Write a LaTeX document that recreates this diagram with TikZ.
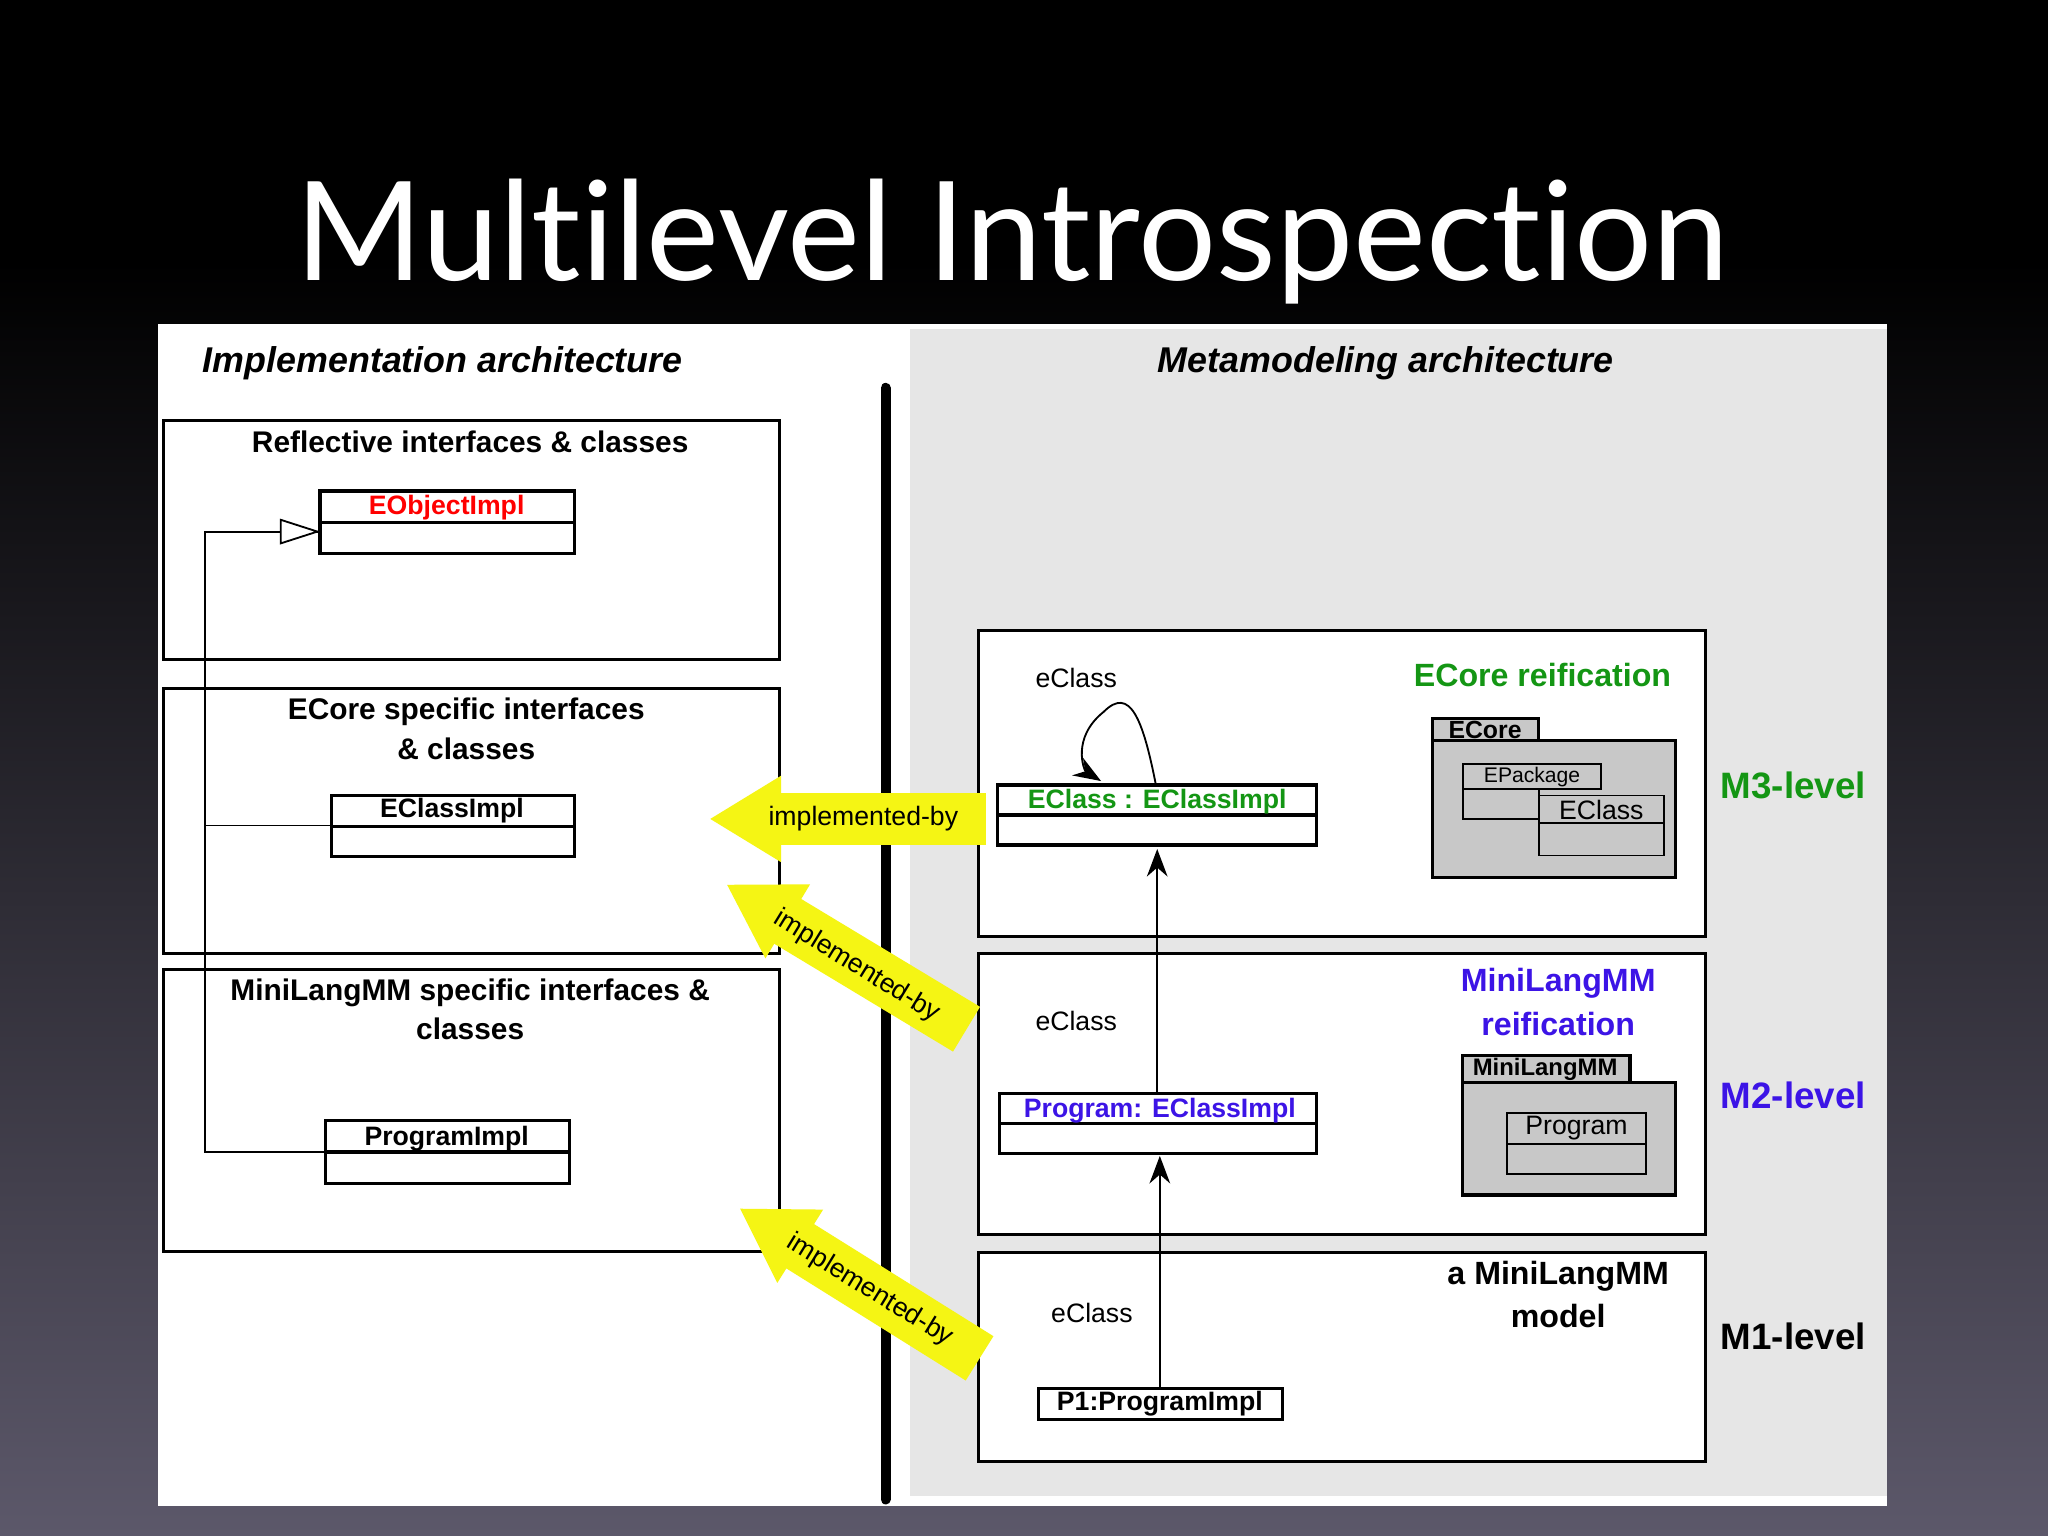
\documentclass[tikz,border=0pt]{standalone}
\usepackage{fontspec}
\setmainfont{Liberation Sans}
\newfontfamily\titlefont[Ligatures={NoCommon,NoRare}]{Lato}
\usetikzlibrary{arrows.meta}
\definecolor{bgbot}{RGB}{92,88,106}
\definecolor{panelgrey}{RGB}{230,230,230}
\definecolor{pkggrey}{RGB}{200,200,200}
\definecolor{mgreen}{RGB}{20,150,20}
\definecolor{mblue}{RGB}{60,20,230}
\definecolor{ayellow}{RGB}{245,245,20}
\tikzset{
  bx/.style={line width=0.7pt},
  lbl/.style={font=\fontsize{6.5pt}{7.5pt}\selectfont\bfseries,align=center,inner sep=0pt},
  clab/.style={font=\fontsize{5.8pt}{7pt}\selectfont\bfseries,inner sep=0pt},
  small/.style={font=\fontsize{5.8pt}{7pt}\selectfont,inner sep=0pt},
  tiny/.style={font=\fontsize{4.6pt}{5pt}\selectfont,inner sep=0pt},
  lvl/.style={font=\fontsize{8pt}{9pt}\selectfont\bfseries,inner sep=0pt},
  yarrow/.style={line width=0.4cm,ayellow,-{Triangle[length=0.55cm,width=0.62cm]}},
  ylab/.style={font=\fontsize{5.8pt}{7pt}\selectfont,text=black,inner sep=0pt},
}
\begin{document}
\begin{tikzpicture}[x=0.01cm,y=-0.01cm]
\useasboundingbox (0,0) rectangle (1568,1176);
\fill[black] (0,0) rectangle (1568,200);
\shade[top color=black,bottom color=bgbot] (0,200) rectangle (1568,1176);
\node[text=white,font=\titlefont\fontsize{30pt}{32pt}\selectfont,inner sep=0pt] (title) at (775,185) {Multilevel Introspection};
\fill[white] (121,248) rectangle (1445,1153);
\fill[panelgrey] (697,252) rectangle (1445,1145);
\draw[line width=2.2pt,line cap=round] (678,297) -- (678,1148);
\node[font=\fontsize{7.8pt}{8pt}\selectfont\bfseries\itshape,inner sep=0pt] (ia) at (339,278) {Implementation architecture};
\node[font=\fontsize{7.8pt}{8pt}\selectfont\bfseries\itshape,inner sep=0pt] (ma) at (1061,278) {Metamodeling architecture};
% left boxes
\draw[bx] (125,322) rectangle (597,505);
\draw[bx] (125,527) rectangle (597,730);
\draw[bx] (125,742) rectangle (597,958);
\node[lbl] (t1) at (360,338) {Reflective interfaces \& classes};
\node[lbl] (t2) at (357,558) {ECore specific interfaces\\[1pt]\& classes};
\node[lbl] (t3) at (360,773) {MiniLangMM specific interfaces \&\\[1pt]classes};
% classes
\draw[bx] (245,376) rectangle (440,424); \draw[bx] (245,400) -- (440,400);
\node[clab,text=red] (eobj) at (342,389) {EObjectImpl};
\coordinate (eobjL) at (245,407);
\draw[bx] (254,609) rectangle (440,656); \draw[bx] (254,633) -- (440,633);
\node[clab] (ecl) at (346,621) {EClassImpl};
\coordinate (eclL) at (254,632);
\draw[bx] (249,858) rectangle (436,906); \draw[bx] (249,882) -- (436,882);
\node[clab] (prg) at (342,872) {ProgramImpl};
\coordinate (prgL) at (249,882);
\coordinate (jn) at (157,632);
\draw (prgL) -- (157,882) -- (157,407) -- (eobjL) ;
\draw (eclL) -- (jn);
\draw[fill=white] (215,398) -- (243,407) -- (215,416) -- cycle;
% right boxes
\draw[bx,fill=white] (749,483) rectangle (1306,717);
\draw[bx,fill=white] (749,730) rectangle (1306,945);
\draw[bx,fill=white] (749,959) rectangle (1306,1119);
% M3
\draw[bx] (764,601) rectangle (1008,647); \draw[bx] (764,624) -- (1008,624);
\node[clab,text=mgreen] (ecls) at (886,614) {EClass : EClassImpl};
\node[small] (ec3) at (824,519) {eClass};
\draw[-{Stealth[length=6pt]}] (885,601) .. controls (875,550) and (865,525) .. (845,545) .. controls (820,565) and (830,590) .. (843,598);
\node[lbl,text=mgreen,font=\fontsize{7pt}{8pt}\selectfont\bfseries] (ecr) at (1181,517) {ECore reification};
\draw[bx,fill=pkggrey] (1097,550) rectangle (1178,567);
\draw[bx,fill=pkggrey] (1097,567) rectangle (1283,672);
\node[tiny,font=\fontsize{5.4pt}{6pt}\selectfont\bfseries] (ecore) at (1137,559) {ECore};
\draw[fill=pkggrey] (1120,585) rectangle (1226,604);
\draw (1120,604) rectangle (1178,627);
\node[tiny] (epk) at (1173,595) {EPackage};
\draw[fill=pkggrey] (1178,609) rectangle (1274,655); \draw (1178,630) -- (1274,630);
\node[small] (ecc) at (1226,620) {EClass};
% M2
\draw[bx] (765,837) rectangle (1008,883); \draw[bx] (765,860) -- (1008,860);
\node[clab,text=mblue] (pec) at (888,850) {Program: EClassImpl};
\node[small] (ec2) at (824,782) {eClass};
\node[lbl,text=mblue,font=\fontsize{7pt}{8.5pt}\selectfont\bfseries] (mlr) at (1193,767) {MiniLangMM\\[1pt]reification};
\draw[bx,fill=pkggrey] (1120,808) rectangle (1248,829);
\draw[bx,fill=pkggrey] (1120,829) rectangle (1283,915);
\node[tiny,font=\fontsize{5.2pt}{6pt}\selectfont\bfseries] (mlp) at (1183,819) {MiniLangMM};
\draw[fill=pkggrey] (1154,852) rectangle (1260,899); \draw (1154,876) -- (1260,876);
\node[small] (pcl) at (1207,864) {Program};
% M1
\draw[bx] (795,1063) rectangle (982,1087);
\node[clab] (p1) at (888,1075) {P1:ProgramImpl};
\node[small] (ec1) at (836,1005) {eClass};
\node[lbl,font=\fontsize{7pt}{8.5pt}\selectfont\bfseries] (amm) at (1193,991) {a MiniLangMM\\[1pt]model};
\draw[-{Stealth[length=6pt]}] (888,1063) -- (888,885);
\draw[-{Stealth[length=6pt]}] (886,837) -- (886,650);
% levels
\node[lvl,text=mgreen] (m3) at (1373,601) {M3-level};
\node[lvl,text=mblue] (m2) at (1373,839) {M2-level};
\node[lvl] (m1) at (1373,1023) {M1-level};
% yellow arrows
\coordinate (y1s) at (755,627); \coordinate (y1e) at (543,627);
\coordinate (y2s) at (740,788); \coordinate (y2e) at (556,677);
\coordinate (y3s) at (750,1040); \coordinate (y3e) at (566,925);
\draw[yarrow] (y1s) -- (y1e);
\draw[yarrow] (y2s) -- (y2e);
\draw[yarrow] (y3s) -- (y3e);
\node[ylab] (l1) at (661,627) {implemented-by};
\node[ylab,rotate=-31.5] (l2) at (656,740) {implemented-by};
\node[ylab,rotate=-31.5] (l3) at (666,988) {implemented-by};
\end{tikzpicture}
\end{document}
